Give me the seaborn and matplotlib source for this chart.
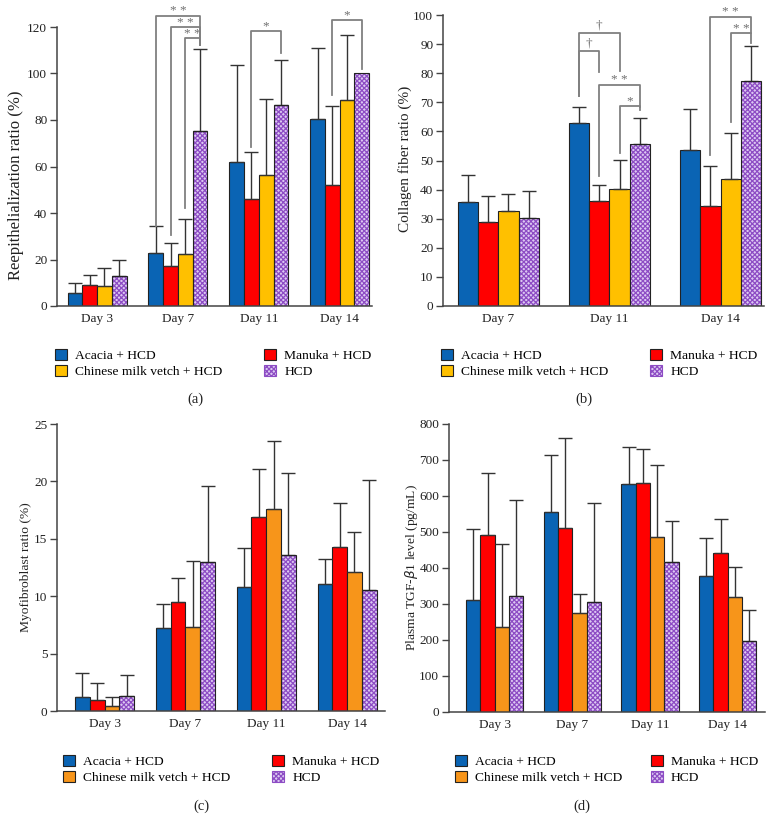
import matplotlib
matplotlib.use("Agg")
import matplotlib.pyplot as plt
from matplotlib.patches import Patch, Rectangle
import numpy as np
import pandas as pd
import seaborn as sns

groups = ["Acacia + HCD", "Manuka + HCD", "Chinese milk vetch + HCD", "HCD"]

# (a) reepithelialization ratio (%)
days_a = ["Day 3", "Day 7", "Day 11", "Day 14"]
reep_acacia = [5.8, 22.7, 62.0, 80.3]
reep_manuka = [9.1, 17.2, 46.0, 51.9]
reep_vetch = [8.5, 22.4, 56.2, 88.7]
reep_hcd = [13.1, 75.3, 86.5, 100.0]
reep_acacia_sd = [4.2, 11.5, 41.8, 30.7]
reep_manuka_sd = [4.2, 9.9, 20.2, 34.1]
reep_vetch_sd = [7.7, 15.1, 32.7, 27.8]
reep_hcd_sd = [6.9, 35.3, 19.4, 0.0]

# (b) collagen fiber ratio (%)
days_b = ["Day 7", "Day 11", "Day 14"]
coll_acacia = [35.9, 62.8, 53.7]
coll_manuka = [28.8, 36.1, 34.4]
coll_vetch = [32.5, 40.1, 43.6]
coll_hcd = [30.2, 55.8, 77.2]
coll_acacia_sd = [9.2, 5.5, 13.9]
coll_manuka_sd = [9.0, 5.5, 13.8]
coll_vetch_sd = [6.1, 10.0, 15.9]
coll_hcd_sd = [9.2, 8.9, 12.0]

# (c) myofibroblast ratio (%)
days_c = ["Day 3", "Day 7", "Day 11", "Day 14"]
myo_acacia = [1.25, 7.26, 10.8, 11.1]
myo_manuka = [0.96, 9.5, 16.9, 14.3]
myo_vetch = [0.45, 7.35, 17.6, 12.1]
myo_hcd = [1.35, 13.0, 13.6, 10.55]
myo_acacia_sd = [2.05, 2.04, 3.4, 2.15]
myo_manuka_sd = [1.44, 2.05, 4.2, 3.8]
myo_vetch_sd = [0.8, 5.7, 5.9, 3.5]
myo_hcd_sd = [1.8, 6.6, 7.1, 9.55]

# (d) plasma TGF-b1 (pg/mL)
days_d = ["Day 3", "Day 7", "Day 11", "Day 14"]
tgf_acacia = [310, 555, 632, 378]
tgf_manuka = [491, 510, 635, 443]
tgf_vetch = [236, 275, 485, 320]
tgf_hcd = [323, 306, 417, 196]
tgf_acacia_sd = [198, 160, 104, 106]
tgf_manuka_sd = [174, 251, 96, 93]
tgf_vetch_sd = [232, 53, 201, 82]
tgf_hcd_sd = [266, 274, 113, 88]

# significance brackets: (day, bar i, bar j, left leg from, top, right leg to, text)
sig_a = [(1, 0, 3, 34.5, 124.9, 112.3, "* *"),
         (1, 1, 3, 30.5, 119.9, 112.3, "* *"),
         (1, 2, 3, 42.0, 115.1, 112.3, "* *"),
         (2, 1, 3, 68.6, 118.3, 109.0, "*"),
         (3, 1, 3, 90.6, 122.9, 102.0, "*")]
sig_b = [(1, 0, 1, 72.3, 87.6, 80.5, "\u2020"),
         (1, 0, 2, 72.3, 93.8, 80.9, "\u2020"),
         (1, 1, 3, 44.8, 76.0, 68.3, "* *"),
         (1, 2, 3, 52.5, 68.7, 67.4, "*"),
         (2, 1, 3, 51.9, 99.4, 93.7, "* *"),
         (2, 2, 3, 63.3, 93.7, 90.3, "* *")]

blue = "#0a64b4"
red = "#ff0000"
yellow = "#ffc000"
orange = "#f7951a"
purple = "#8d4cc4"
hcd_face = "#dcc8f2"

plt.rcParams["font.family"] = ["Liberation Serif", "DejaVu Serif"]
plt.rcParams["hatch.linewidth"] = 0.9

fig = plt.figure(figsize=(7.84, 8.19), dpi=100)
W, H = 784.0, 819.0


def px_axes(l, t, r, b):
    return fig.add_axes([l / W, 1 - b / H, (r - l) / W, (b - t) / H])


def draw_panel(ax, days, means, sds, colors, ylim, yticks, ylabel, xlim, width,
               label_size, label_xy):
    df = pd.DataFrame({
        "day": np.repeat([days], len(groups), axis=0).ravel(),
        "group": np.repeat(groups, len(days)),
        "value": np.concatenate(means),
    })
    sns.barplot(data=df, x="day", y="value", hue="group", order=days,
                hue_order=groups, palette=colors, width=width, errorbar=None,
                edgecolor="#222222", linewidth=0.8, saturation=1, legend=False,
                ax=ax)
    # hatched HCD bars with separate outline
    for bar in ax.containers[3]:
        bar.set_facecolor(hcd_face)
        bar.set_edgecolor(purple)
        bar.set_hatch("xxxxxxx")
        bar.set_linewidth(0)
        ax.add_patch(Rectangle(bar.get_xy(), bar.get_width(), bar.get_height(),
                               fill=False, edgecolor="#222222", linewidth=0.8,
                               zorder=bar.get_zorder() + 0.1))
    for gi, cont in enumerate(ax.containers[:4]):
        xs = [b.get_x() + b.get_width() / 2 for b in cont]
        ys = [b.get_height() for b in cont]
        sd = np.array(sds[gi], dtype=float)
        keep = sd > 0
        ax.errorbar(np.array(xs)[keep], np.array(ys)[keep],
                    yerr=[np.zeros(keep.sum()), sd[keep]], fmt="none",
                    ecolor="#333333", elinewidth=1.0, capsize=5, capthick=1.0,
                    zorder=1)
    ax.set_ylim(*ylim)
    ax.set_yticks(yticks)
    ax.set_xlim(*xlim)
    ax.set_xlabel("")
    ax.set_ylabel(ylabel, fontsize=label_size, color="#222222", va="center")
    ax.yaxis.set_label_coords(*label_xy)
    for s in ["top", "right"]:
        ax.spines[s].set_visible(False)
    for s in ["left", "bottom"]:
        ax.spines[s].set_color("#444444")
        ax.spines[s].set_linewidth(1.1)
    ax.tick_params(axis="y", direction="out", length=5, width=1.0,
                   color="#444444", labelsize=9.5, labelcolor="#222222", pad=2)
    ax.tick_params(axis="x", length=0, labelsize=9.5, labelcolor="#222222", pad=5)
    ax.set_facecolor("white")


def draw_sig(ax, sig):
    for day, i, j, y0, ytop, y1, txt in sig:
        bi = ax.containers[i][day]
        bj = ax.containers[j][day]
        xi = bi.get_x() + bi.get_width() / 2
        xj = bj.get_x() + bj.get_width() / 2
        ax.plot([xi, xi, xj, xj], [y0, ytop, ytop, y1], color="#808080",
                lw=1.3, clip_on=False, zorder=5)
        if txt == "\u2020":
            off, va = 1.0, "bottom"
        else:
            off, va = 3.2, "center"
        ax.annotate(txt, ((xi + xj) / 2, ytop), xytext=(0, off),
                    textcoords="offset points", ha="center", va=va,
                    fontsize=9.5, color="#707070", annotation_clip=False)


def draw_legend(ax, colors, x, y, colspace=3.1):
    handles = [Patch(facecolor=colors[0], edgecolor="#222222", lw=0.8),
               Patch(facecolor=colors[2], edgecolor="#222222", lw=0.8),
               Patch(facecolor=colors[1], edgecolor="#222222", lw=0.8),
               Patch(facecolor=hcd_face, edgecolor=purple, hatch="xxxxxxx", lw=0.8)]
    labels = [groups[0], groups[2], groups[1], groups[3]]
    ax.legend(handles, labels, ncol=2, loc="upper left",
              bbox_to_anchor=(x / W, 1 - y / H), bbox_transform=fig.transFigure,
              frameon=False, fontsize=9.7, handlelength=0.9, handleheight=0.9,
              handletextpad=0.6, columnspacing=colspace, labelspacing=0.2,
              borderpad=0, borderaxespad=0)


pal_ab = [blue, red, yellow, purple]
pal_cd = [blue, red, orange, purple]

ax_a = px_axes(57, 27, 372, 306)
draw_panel(ax_a, days_a, [reep_acacia, reep_manuka, reep_vetch, reep_hcd],
           [reep_acacia_sd, reep_manuka_sd, reep_vetch_sd, reep_hcd_sd],
           pal_ab, (0, 120), range(0, 121, 20), "Reepithelialization ratio (%)",
           (-0.495, 3.40), 0.73, 12, (-0.130, 0.434))
draw_sig(ax_a, sig_a)
draw_legend(ax_a, pal_ab, 55, 349)

ax_b = px_axes(443, 15, 764, 306)
draw_panel(ax_b, days_b, [coll_acacia, coll_manuka, coll_vetch, coll_hcd],
           [coll_acacia_sd, coll_manuka_sd, coll_vetch_sd, coll_hcd_sd],
           pal_ab, (0, 100), range(0, 101, 10), "Collagen fiber ratio (%)",
           (-0.497, 2.39), 0.73, 11, (-0.118, 0.505))
draw_sig(ax_b, sig_b)
draw_legend(ax_b, pal_ab, 441, 349)

ax_c = px_axes(57, 424, 385, 711)
draw_panel(ax_c, days_c, [myo_acacia, myo_manuka, myo_vetch, myo_hcd],
           [myo_acacia_sd, myo_manuka_sd, myo_vetch_sd, myo_hcd_sd],
           pal_cd, (0, 25), range(0, 26, 5), "Myofibroblast ratio (%)",
           (-0.589, 3.47), 0.73, 9.7, (-0.095, 0.5))
draw_legend(ax_c, pal_cd, 63, 755)

ax_d = px_axes(449, 424, 765, 712)
draw_panel(ax_d, days_d, [tgf_acacia, tgf_manuka, tgf_vetch, tgf_hcd],
           [tgf_acacia_sd, tgf_manuka_sd, tgf_vetch_sd, tgf_hcd_sd],
           pal_cd, (0, 800), range(0, 801, 100),
           "Plasma TGF-$\\beta$1 level (pg/mL)", (-0.588, 3.48), 0.737,
           9.7, (-0.120, 0.503))
draw_legend(ax_d, pal_cd, 455, 755, colspace=2.1)

for lbl, x, y in [("(a)", 195, 399), ("(b)", 584, 399), ("(c)", 201, 806), ("(d)", 582, 806)]:
    fig.text(x / W, 1 - y / H, lbl, ha="center", va="center", fontsize=10.5,
             color="#222222")

fig.savefig("out.png", dpi=100, facecolor="white")
